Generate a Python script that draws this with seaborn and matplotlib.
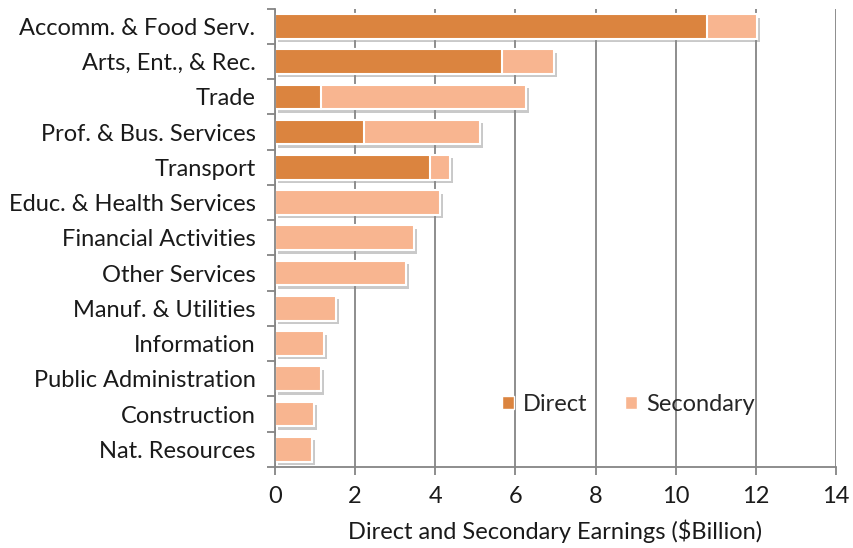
import matplotlib
matplotlib.use("Agg")
import matplotlib.pyplot as plt
import matplotlib.patheffects as pe
from matplotlib.ticker import FixedLocator
from matplotlib.patches import Patch
import seaborn as sns
import pandas as pd

categories = ["Accomm. & Food Serv.", "Arts, Ent., & Rec.", "Trade", "Prof. & Bus. Services",
              "Transport", "Educ. & Health Services", "Financial Activities", "Other Services",
              "Manuf. & Utilities", "Information", "Public Administration", "Construction",
              "Nat. Resources"]
direct = [10.79, 5.67, 1.14, 2.23, 3.87, 0, 0, 0, 0, 0, 0, 0, 0]
total = [12.03, 6.96, 6.27, 5.11, 4.37, 4.12, 3.47, 3.27, 1.53, 1.22, 1.15, 0.98, 0.92]

c_direct = "#DB843F"
c_second = "#F8B590"

sns.set_theme(style="white")
plt.rcParams["font.family"] = ["Lato", "DejaVu Sans"]

df = pd.DataFrame({"cat": categories, "direct": direct, "total": total})

fig = plt.figure(figsize=(8.54, 5.48), dpi=100)
ax = fig.add_axes([0.322, 0.148, 0.657, 0.836])

shadow = [pe.SimplePatchShadow(offset=(2, -2.5), shadow_rgbFace="#888888", alpha=0.45), pe.Normal()]

sns.barplot(data=df, y="cat", x="total", color=c_second, saturation=1, width=0.7,
            edgecolor="white", linewidth=1.5, ax=ax, orient="h")
for p in ax.patches:
    p.set_path_effects(shadow)
sns.barplot(data=df, y="cat", x="direct", color=c_direct, saturation=1, width=0.7,
            edgecolor="white", linewidth=1.5, ax=ax, orient="h")

ax.set_xlim(0, 14)
ax.set_ylim(len(categories) - 0.5, -0.5)
ax.set_xticks(range(0, 15, 2))
ax.set_xlabel("Direct and Secondary Earnings ($Billion)", fontsize=17, color="#1a1a1a", labelpad=9)
ax.set_ylabel("")
ax.xaxis.grid(True, color="#858585", linewidth=1.3)
ax.set_axisbelow(True)

for s in ["top", "right"]:
    ax.spines[s].set_visible(False)
for s in ["left", "bottom"]:
    ax.spines[s].set_color("#858585")
    ax.spines[s].set_linewidth(1.3)

ax.tick_params(axis="x", which="major", length=6, width=1.3, color="#858585",
               labelsize=17, labelcolor="#1a1a1a", direction="out", pad=8, bottom=True)
ax.tick_params(axis="y", which="major", length=0, labelsize=17, labelcolor="#1a1a1a", pad=14)
ax.yaxis.set_minor_locator(FixedLocator([i + 0.5 for i in range(-1, len(categories))]))
ax.tick_params(axis="y", which="minor", length=6, width=1.3, color="#858585", left=True, direction="out")

handles = [Patch(facecolor=c_direct, edgecolor="white"), Patch(facecolor=c_second, edgecolor="white")]
ax.legend(handles, ["Direct", "Secondary"], loc="center", bbox_to_anchor=(0.63, 0.137),
          ncol=2, frameon=False, fontsize=17, handlelength=0.5, handleheight=0.5,
          handletextpad=0.4, columnspacing=1.6)

fig.savefig("out.png", dpi=100)
